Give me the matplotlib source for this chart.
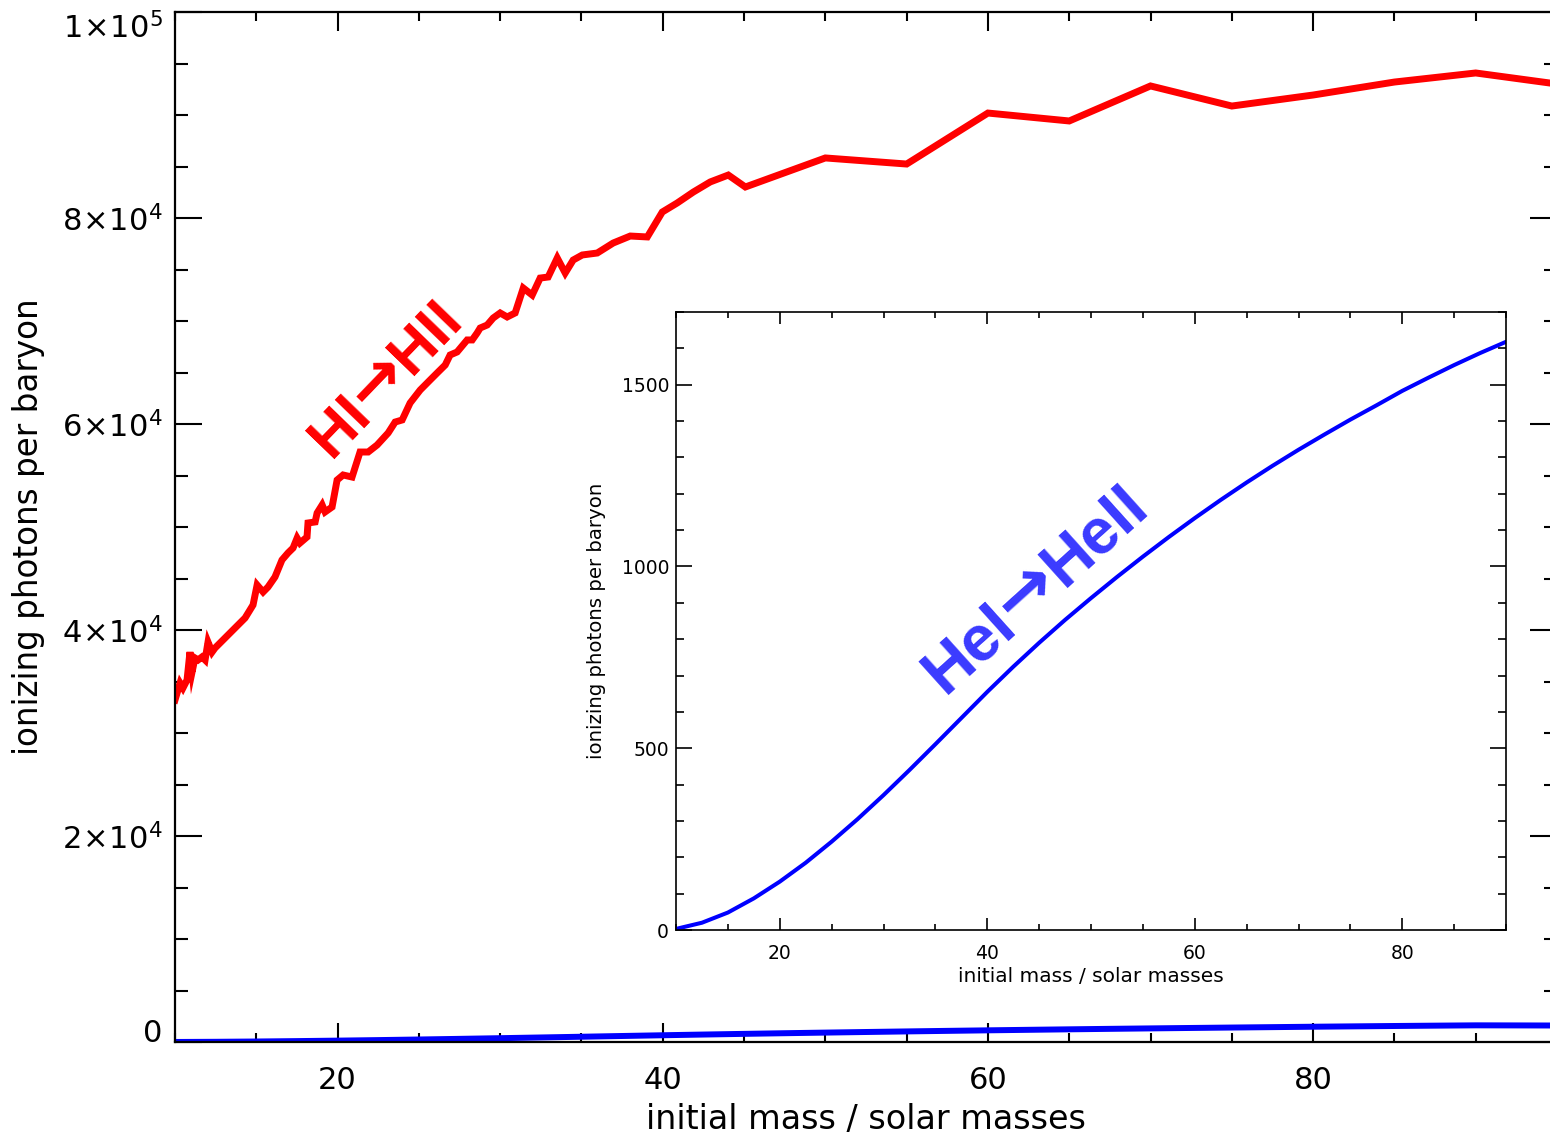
import numpy as np
import matplotlib
matplotlib.use("Agg")
import matplotlib.pyplot as plt
from matplotlib.ticker import MultipleLocator, FixedLocator

# Hydrogen-ionizing photons per baryon versus initial stellar mass
hi_mass = [10.00, 10.31, 10.49, 10.74, 10.92, 11.05, 11.23, 11.42, 11.66, 11.85,
           12.03, 12.28, 12.46, 14.31, 14.80, 15.05, 15.42, 15.72, 16.15, 16.58,
           16.95, 17.26, 17.51, 17.69, 18.12, 18.18, 18.62, 18.74, 19.05, 19.23,
           19.66, 19.97, 20.34, 20.89, 21.38, 21.88, 22.43, 23.11, 23.54, 23.97,
           24.46, 25.08, 25.69, 26.12, 26.62, 26.92, 27.35, 27.97, 28.28, 28.58,
           28.77, 29.20, 29.57, 30.00, 30.43, 30.92, 31.42, 31.97, 32.46, 32.95,
           33.51, 34.00, 34.49, 35.05, 35.97, 36.95, 38.00, 39.05, 39.97, 40.89,
           41.88, 42.92, 44.03, 45.08, 50.0, 55.0, 60.0, 65.0, 70.0, 75.0,
           80.0, 85.0, 90.0, 95.0]
hi_photons = [33200, 34850, 34370, 35150, 37860, 35920, 37280, 37090, 37380, 37090,
              38830, 37860, 38250, 41170, 42430, 44370, 43690, 44170, 45150, 46800,
              47480, 47960, 48930, 48450, 49030, 50390, 50490, 51360, 52140, 51460,
              51940, 54560, 55050, 54850, 57280, 57280, 57960, 59130, 60190, 60390,
              62040, 63300, 64270, 64950, 65730, 66700, 66990, 68160, 68160, 68830,
              69320, 69610, 70290, 70780, 70390, 70780, 73200, 72520, 74170, 74270,
              76120, 74660, 75920, 76410, 76600, 77570, 78250, 78160, 80580, 81460,
              82520, 83500, 84170, 83010, 85830, 85240, 90190, 89420, 92820, 90870,
              91940, 93200, 94080, 93010]

# Helium (HeI -> HeII) ionizing photons per baryon
he_mass = [10, 12.5, 15, 17.5, 20, 22.5, 25, 27.5, 30, 32.5, 35, 37.5, 40,
           42.5, 45, 47.5, 50, 52.5, 55, 57.5, 60, 62.5, 65, 67.5, 70, 72.5,
           75, 77.5, 80, 82.5, 85, 87.5, 90, 92.5, 95]
he_photons = [3, 20, 48, 87, 133, 185, 243, 305, 371, 440, 511, 583, 655,
              724, 790, 853, 913, 971, 1027, 1081, 1133, 1183, 1231, 1277, 1321, 1363,
              1404, 1443, 1483, 1519, 1554, 1587, 1618, 1610, 1600]

main_xticks = [20, 40, 60, 80]
main_xticklabels = ["20", "40", "60", "80"]
main_yticks = [0, 20000, 40000, 60000, 80000, 100000]
main_yticklabels = ["0", r"$2\!\times\!10^{4}$", r"$4\!\times\!10^{4}$",
                    r"$6\!\times\!10^{4}$", r"$8\!\times\!10^{4}$",
                    r"$1\!\times\!10^{5}$"]
inset_xticks = [20, 40, 60, 80]
inset_yticks = [0, 500, 1000, 1500]

xlabel_text = "initial mass / solar masses"
ylabel_text = "ionizing photons per baryon"

plt.rcParams["font.family"] = ["DejaVu Sans"]
plt.rcParams["mathtext.fontset"] = "dejavusans"

W, H = 1550, 1137
fig = plt.figure(figsize=(W / 100, H / 100), dpi=100)
renderer = fig.canvas.get_renderer()


def rotated_label(pieces, cx, cy, angle, color):
    """Lay out several text pieces along one rotated baseline.

    pieces: (text, fontsize, family, lift) where lift raises the piece
    above the common baseline, in units of its own font size.
    cx, cy: centre of the capital letters, in pixels from the top-left.
    """
    widths = []
    for s, fs, fam, lift in pieces:
        t = fig.text(0, 0, s, fontsize=fs, family=fam, fontweight="bold")
        widths.append(t.get_window_extent(renderer).width)
        t.remove()
    th = np.radians(angle)
    ux, uy = np.cos(th), np.sin(th)
    px, py = -np.sin(th), np.cos(th)
    cap_fs = pieces[0][1]
    base_x = cx - 0.36 * cap_fs * 100 / 72 * px
    base_y = (H - cy) - 0.36 * cap_fs * 100 / 72 * py
    pos = -sum(widths) / 2
    for (s, fs, fam, lift), w in zip(pieces, widths):
        d = pos + w / 2
        up = lift * fs * 100 / 72
        x = base_x + d * ux + up * px
        y = base_y + d * uy + up * py
        fig.text(x / W, y / H, s, fontsize=fs, family=fam, fontweight="bold",
                 color=color, rotation=angle, rotation_mode="anchor",
                 ha="center", va="baseline", zorder=10)
        pos += w


# main axes (right spine sits just past the figure edge)
ax = fig.add_axes([175 / W, 1 - 1042 / H, 1382 / W, 1030 / H])
ax.plot(hi_mass, hi_photons, color="#ff0000", lw=5.0, solid_joinstyle="miter")
ax.plot(he_mass, he_photons, color="#0000ff", lw=4.3)
ax.set_xlim(10, 95)
ax.set_ylim(0, 100000)
ax.xaxis.set_major_locator(FixedLocator(main_xticks))
ax.set_xticklabels(main_xticklabels)
ax.xaxis.set_minor_locator(MultipleLocator(5))
ax.yaxis.set_major_locator(FixedLocator(main_yticks))
ax.set_yticklabels(main_yticklabels)
ax.yaxis.set_minor_locator(MultipleLocator(5000))
ax.tick_params(which="both", direction="in", top=True, right=True, width=1.5,
               colors="black")
ax.tick_params(axis="x", which="major", length=13.7, pad=17, labelsize=22)
ax.tick_params(axis="x", which="minor", length=6.8)
ax.tick_params(axis="y", which="major", length=19.4, pad=9, labelsize=22)
ax.tick_params(axis="y", which="minor", length=9.4)
yt = ax.yaxis.get_major_ticks()
yt[0].label1.set_va("baseline")
yt[-1].label1.set_va("top")
for s in ax.spines.values():
    s.set_linewidth(1.6)
ax.set_xlabel(xlabel_text, fontsize=24, va="center")
ax.xaxis.set_label_coords(0.5, (1042 - 1120) / 1030)
ax.set_ylabel(ylabel_text, fontsize=23.5, va="center")
ax.yaxis.set_label_coords((28 - 175) / 1382, 0.5)

# inset with the helium curve
ins = fig.add_axes([676 / W, 1 - 930 / H, 830 / W, 618 / H])
ins.plot(he_mass, he_photons, color="#0000ff", lw=2.9)
ins.set_xlim(10, 90)
ins.set_ylim(0, 1700)
ins.xaxis.set_major_locator(FixedLocator(inset_xticks))
ins.xaxis.set_minor_locator(MultipleLocator(5))
ins.yaxis.set_major_locator(FixedLocator(inset_yticks))
ins.yaxis.set_minor_locator(MultipleLocator(100))
ins.tick_params(which="both", direction="in", top=True, right=True, width=1.2)
ins.tick_params(axis="x", which="major", length=8.6, pad=10, labelsize=13.5)
ins.tick_params(axis="x", which="minor", length=4.3)
ins.tick_params(axis="y", which="major", length=11.5, pad=5, labelsize=13.5)
ins.tick_params(axis="y", which="minor", length=5.8)
for s in ins.spines.values():
    s.set_linewidth(1.2)
ins.set_xlabel(xlabel_text, fontsize=14.5, va="center")
ins.xaxis.set_label_coords(0.5, (930 - 977) / 618)
ins.set_ylabel(ylabel_text, fontsize=14.2, va="center")
ins.yaxis.set_label_coords((597 - 676) / 830, 0.5)

label_font = ["Liberation Sans", "DejaVu Sans"]
arrow_font = ["DejaVu Sans"]
rotated_label([("HI", 43, label_font, 0.0), ("\u2192", 48, arrow_font, 0.04),
               ("HII", 43, label_font, 0.0)], 382, 375, 46, "#ff0000")
rotated_label([("HeI", 46, label_font, 0.0), ("\u2192", 52, arrow_font, 0.04),
               ("HeII", 46, label_font, 0.0)], 1032, 585, 42, "#3a3aff")

fig.savefig("out.png", dpi=100)
